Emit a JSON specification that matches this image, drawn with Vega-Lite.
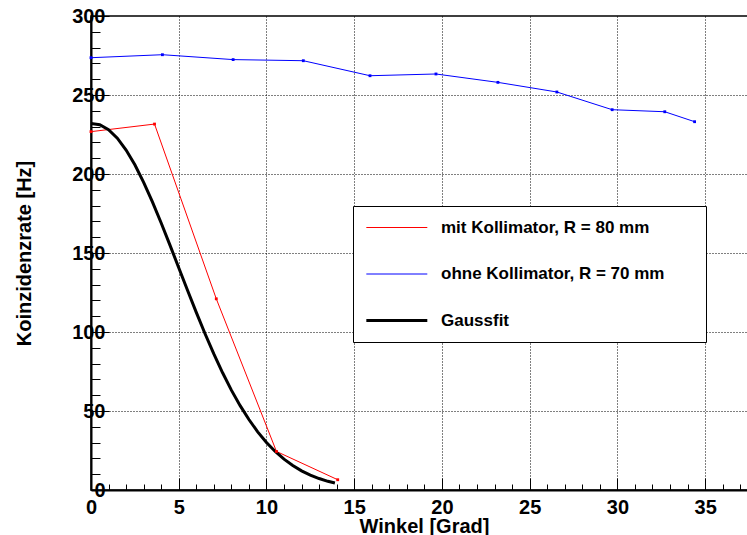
{
  "$schema": "https://vega.github.io/schema/vega-lite/v6.json",
  "autosize": {"type": "none"},
  "padding": {"left": 91, "top": 16, "right": 0, "bottom": 45},
  "width": 658,
  "height": 474,
  "background": "white",
  "config": {
    "view": {"stroke": "black", "strokeWidth": 1.5},
    "font": "Liberation Sans",
    "axis": {
      "domainColor": "black",
      "domainWidth": 2,
      "tickColor": "black",
      "tickWidth": 1,
      "labelFont": "Liberation Sans",
      "labelFontWeight": "bold",
      "labelFontSize": 20,
      "labelColor": "black",
      "labelOverlap": false,
      "labelFlush": false,
      "titleFont": "Liberation Sans",
      "titleFontWeight": "bold",
      "titleFontSize": 20,
      "titleColor": "black",
      "gridColor": "black",
      "gridWidth": 1,
      "gridDash": [1, 2]
    },
    "legend": {
      "symbolType": "M-1,0H5",
      "symbolSize": 413,
      "symbolOffset": 2,
      "labelFont": "Liberation Sans",
      "labelFontSize": 17,
      "labelFontWeight": "bold",
      "labelColor": "black",
      "labelOffset": 56,
      "labelLimit": 500,
      "strokeColor": "black",
      "fillColor": "white",
      "padding": 13,
      "rowPadding": 28.5,
      "cornerRadius": 0,
      "titleOrient": "right",
      "titlePadding": 29,
      "titleFontSize": 17
    }
  },
  "data": {
    "values": [
      {"x": 0, "y": 226.8, "s": "mit Kollimator, R = 80 mm"},
      {"x": 3.62, "y": 231.6, "s": "mit Kollimator, R = 80 mm"},
      {"x": 7.14, "y": 121, "s": "mit Kollimator, R = 80 mm"},
      {"x": 10.57, "y": 24.4, "s": "mit Kollimator, R = 80 mm"},
      {"x": 14.06, "y": 6.5, "s": "mit Kollimator, R = 80 mm"},
      {"x": 0, "y": 273.6, "s": "ohne Kollimator, R = 70 mm"},
      {"x": 4.07, "y": 275.5, "s": "ohne Kollimator, R = 70 mm"},
      {"x": 8.1, "y": 272.4, "s": "ohne Kollimator, R = 70 mm"},
      {"x": 12.1, "y": 271.7, "s": "ohne Kollimator, R = 70 mm"},
      {"x": 15.9, "y": 262.2, "s": "ohne Kollimator, R = 70 mm"},
      {"x": 19.66, "y": 263.3, "s": "ohne Kollimator, R = 70 mm"},
      {"x": 23.19, "y": 258, "s": "ohne Kollimator, R = 70 mm"},
      {"x": 26.55, "y": 251.9, "s": "ohne Kollimator, R = 70 mm"},
      {"x": 29.7, "y": 240.7, "s": "ohne Kollimator, R = 70 mm"},
      {"x": 32.7, "y": 239.4, "s": "ohne Kollimator, R = 70 mm"},
      {"x": 34.4, "y": 233.1, "s": "ohne Kollimator, R = 70 mm"},
      {"x": 0, "y": 232.0, "s": "Gaussfit"},
      {"x": 0.5, "y": 231.2, "s": "Gaussfit"},
      {"x": 1, "y": 228.1, "s": "Gaussfit"},
      {"x": 1.5, "y": 222.7, "s": "Gaussfit"},
      {"x": 2, "y": 215.2, "s": "Gaussfit"},
      {"x": 2.5, "y": 205.8, "s": "Gaussfit"},
      {"x": 3, "y": 194.7, "s": "Gaussfit"},
      {"x": 3.5, "y": 182.4, "s": "Gaussfit"},
      {"x": 4, "y": 169.0, "s": "Gaussfit"},
      {"x": 4.5, "y": 155.0, "s": "Gaussfit"},
      {"x": 5, "y": 140.7, "s": "Gaussfit"},
      {"x": 5.5, "y": 126.4, "s": "Gaussfit"},
      {"x": 6, "y": 112.4, "s": "Gaussfit"},
      {"x": 6.5, "y": 98.9, "s": "Gaussfit"},
      {"x": 7, "y": 86.1, "s": "Gaussfit"},
      {"x": 7.5, "y": 74.2, "s": "Gaussfit"},
      {"x": 8, "y": 63.2, "s": "Gaussfit"},
      {"x": 8.5, "y": 53.4, "s": "Gaussfit"},
      {"x": 9, "y": 44.6, "s": "Gaussfit"},
      {"x": 9.5, "y": 36.8, "s": "Gaussfit"},
      {"x": 10, "y": 30.1, "s": "Gaussfit"},
      {"x": 10.5, "y": 24.4, "s": "Gaussfit"},
      {"x": 11, "y": 19.5, "s": "Gaussfit"},
      {"x": 11.5, "y": 15.5, "s": "Gaussfit"},
      {"x": 12, "y": 12.1, "s": "Gaussfit"},
      {"x": 12.5, "y": 9.4, "s": "Gaussfit"},
      {"x": 13, "y": 7.25, "s": "Gaussfit"},
      {"x": 13.5, "y": 5.5, "s": "Gaussfit"},
      {"x": 13.9, "y": 4.4, "s": "Gaussfit"}
    ]
  },
  "encoding": {
    "x": {
      "field": "x",
      "type": "quantitative",
      "scale": {"domain": [0, 37.5], "nice": false, "zero": false},
      "axis": {
        "title": "Winkel [Grad]",
        "titleX": 333,
        "titleY": 42,
        "titleAlign": "center",
        "titleBaseline": "alphabetic",
        "values": [0,1,2,3,4,5,6,7,8,9,10,11,12,13,14,15,16,17,18,19,20,21,22,23,24,25,26,27,28,29,30,31,32,33,34,35,36,37],
        "labelExpr": "datum.value % 5 === 0 ? datum.label : ''",
        "tickSize": {"condition": {"test": "datum.value % 5 === 0", "value": -12}, "value": -6},
        "labelPadding": 19,
        "grid": true,
        "gridOpacity": {"condition": {"test": "datum.value % 5 === 0 && datum.value > 0", "value": 1}, "value": 0}
      }
    },
    "y": {
      "field": "y",
      "type": "quantitative",
      "scale": {"domain": [0, 300], "nice": false},
      "axis": {
        "title": "Koinzidenzrate [Hz]",
        "titleX": -67,
        "titleY": 237,
        "titleAngle": -90,
        "titleAlign": "center",
        "titleBaseline": "middle",
        "values": [0,10,20,30,40,50,60,70,80,90,100,110,120,130,140,150,160,170,180,190,200,210,220,230,240,250,260,270,280,290,300],
        "labelExpr": "datum.value % 50 === 0 ? datum.label : ''",
        "tickSize": {"condition": {"test": "datum.value % 50 === 0", "value": -18}, "value": -9},
        "labelPadding": 4,
        "grid": true,
        "gridOpacity": {"condition": {"test": "datum.value % 50 === 0 && datum.value > 0 && datum.value < 300", "value": 1}, "value": 0}
      }
    }
  },
  "layer": [
    {
      "transform": [{"filter": "datum.s !== 'Gaussfit'"}],
      "mark": {"type": "line", "clip": true, "strokeWidth": 1},
      "encoding": {
        "color": {
          "field": "s",
          "type": "nominal",
          "scale": {
            "domain": ["mit Kollimator, R = 80 mm", "ohne Kollimator, R = 70 mm", "Gaussfit"],
            "range": ["#ff0000", "#0000ff", "#000000"]
          },
          "legend": {
            "orient": "none",
            "legendX": 262,
            "legendY": 190,
            "title": " ",
            "encode": {
              "symbols": {
                "update": {
                  "strokeWidth": {"signal": "datum.value === 'Gaussfit' ? 3 : 1"}
                }
              }
            }
          }
        }
      }
    },
    {
      "transform": [{"filter": "datum.s === 'Gaussfit'"}],
      "mark": {"type": "line", "clip": true, "strokeWidth": 3},
      "encoding": {
        "color": {"field": "s", "type": "nominal", "legend": null}
      }
    },
    {
      "transform": [{"filter": "datum.s !== 'Gaussfit'"}],
      "mark": {"type": "point", "shape": "square", "filled": true, "size": 8, "opacity": 1},
      "encoding": {
        "color": {"field": "s", "type": "nominal", "legend": null}
      }
    }
  ]
}
